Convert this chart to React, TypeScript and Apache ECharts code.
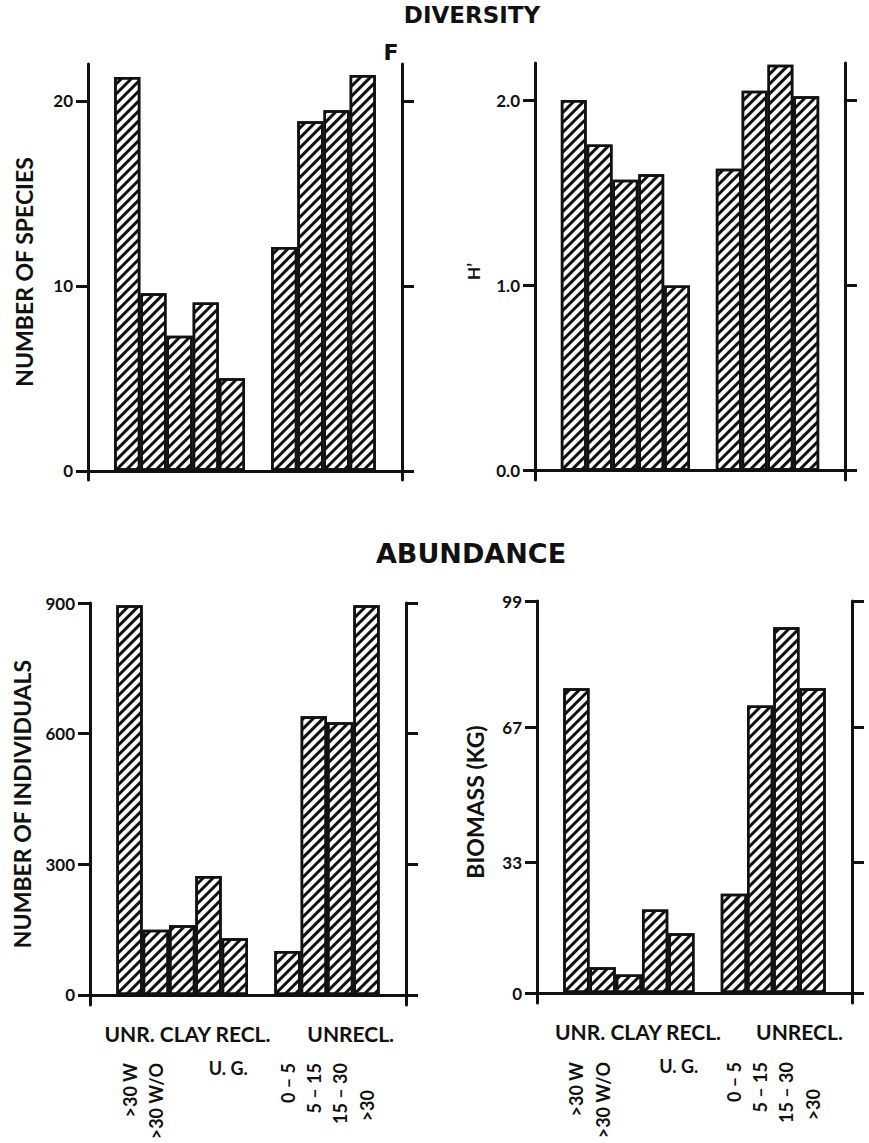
import React, { useEffect, useRef } from 'react';
import * as echarts from 'echarts';

// ---- data ----
// 12 slots per panel: empty, 5 clay-reclaimed bars, empty, 4 unreclaimed bars, empty
const slots = ['s0', 's1', 's2', 's3', 's4', 's5', 's6', 's7', 's8', 's9', 's10', 's11'];
const slotLabels = ['', '>30 W', '>30 W/O', '', '', '', '', '0 – 5', '5 – 15', '15 – 30', '>30', ''];
const speciesCount = [null, 21.3, 9.6, 7.3, 9.1, 5.0, null, 12.1, 18.9, 19.5, 21.4, null];
const shannonH = [null, 2.0, 1.76, 1.57, 1.6, 1.0, null, 1.63, 2.05, 2.19, 2.02, null];
const individuals = [null, 895, 150, 160, 273, 130, null, 101, 640, 626, 895, null];
const biomassKg = [null, 77, 6.5, 4.7, 21.1, 15.1, null, 25.1, 72.6, 92.4, 77, null];
const speciesTicks = [0, 10, 20];
const hTicks = [0, 1, 2];
const individualsTicks = [0, 300, 600, 900];
const biomassTicks = [0, 33, 67, 99];
const groupLabels = ['UNR. CLAY RECL.', 'UNRECL.'];
const subgroupLabel = 'U. G.';

const INK = '#111';
const FONT = 'Lato, "DejaVu Sans", sans-serif';
const TITLE_FONT = '"DejaVu Sans", Lato, sans-serif';

function buildOption() {
  const grid: any[] = [];
  const xAxis: any[] = [];
  const yAxis: any[] = [];
  const series: any[] = [];

  const barStyle = {
    color: '#fff',
    borderColor: INK,
    borderWidth: 2.5,
    decal: {
      symbol: 'rect',
      symbolSize: 1,
      color: INK,
      dashArrayX: [1, 0],
      dashArrayY: [2.3, 3.5],
      rotation: -Math.PI / 4,
    },
  };

  // the last ">30" label of the unreclaimed group sits lower in the original
  const slotItems = slots.map((s, i) =>
    i === 10 ? { value: s, textStyle: { padding: [0, 27, 0, 0] } } : s
  );

  function addPanel(p: any) {
    const rect = { left: p.left, top: p.top, width: p.width, height: p.height };
    const gi = grid.length;
    grid.push({ ...rect });
    const xi = xAxis.length;
    xAxis.push({
      type: 'category',
      gridIndex: gi,
      data: p.rotated ? slotItems : slots,
      boundaryGap: true,
      axisLine: { show: true, onZero: true, lineStyle: { color: INK, width: 3 } },
      axisTick: { show: false },
      splitLine: { show: false },
      axisLabel: p.rotated
        ? {
            show: true,
            interval: 0,
            rotate: 90,
            margin: p.rotMargin,
            formatter: (_v: any, i: number) => slotLabels[i],
            fontFamily: FONT,
            fontWeight: 'bold',
            fontSize: 18,
            color: INK,
          }
        : { show: false },
    });
    const yl = yAxis.length;
    const yCommon = {
      type: 'value',
      gridIndex: gi,
      min: p.min,
      max: p.max,
      splitLine: { show: false },
      axisLine: { show: true, onZero: false, lineStyle: { color: INK, width: 3 } },
      axisTick: { show: true, length: 12, customValues: p.ticks, lineStyle: { color: INK, width: 3 } },
    };
    yAxis.push({
      ...yCommon,
      position: 'left',
      axisLabel: {
        customValues: p.ticks,
        formatter: p.fmt,
        margin: 15,
        fontSize: 17,
        fontWeight: 'bold',
        fontFamily: FONT,
        color: INK,
      },
      name: p.name,
      nameLocation: 'middle',
      nameRotate: 90,
      nameGap: p.nameGap,
      nameTextStyle: { fontSize: p.nameSize, fontWeight: 'bold', fontFamily: FONT, color: INK },
    });
    yAxis.push({ ...yCommon, position: 'right', axisLabel: { show: false } });
    series.push({
      type: 'bar',
      xAxisIndex: xi,
      yAxisIndex: yl,
      data: p.values,
      barCategoryGap: '0%',
      itemStyle: barStyle,
      silent: true,
    });

    if (p.rotated) {
      const rows = [
        { at: p.groupAt, texts: groupLabels, margin: 18, size: 21 },
        { at: [p.subAt], texts: [subgroupLabel], margin: 54, size: 18 },
      ];
      rows.forEach((r) => {
        const g = grid.length;
        grid.push({ ...rect });
        xAxis.push({
          type: 'value',
          gridIndex: g,
          min: 0,
          max: 12,
          axisLine: { show: false, onZero: true },
          axisTick: { show: false },
          splitLine: { show: false },
          axisLabel: {
            customValues: r.at,
            formatter: (v: number) => {
              const k = r.at.findIndex((a: number) => Math.abs(a - v) < 1e-6);
              return k >= 0 ? r.texts[k] : '';
            },
            margin: r.margin,
            fontSize: r.size,
            fontWeight: 'bold',
            fontFamily: FONT,
            color: INK,
          },
        });
        yAxis.push({ type: 'value', gridIndex: g, min: p.min, max: p.max, show: false });
      });
    }
  }

  addPanel({
    left: 88, top: 64, width: 314, height: 416, min: -0.5, max: 22,
    ticks: speciesTicks, fmt: (v: number) => String(v), values: speciesCount,
    name: 'NUMBER OF SPECIES', nameGap: 53, nameSize: 23, rotated: false,
  });
  addPanel({
    left: 535, top: 63, width: 310, height: 417, min: -0.05, max: 2.2,
    ticks: hTicks, fmt: (v: number) => v.toFixed(1), values: shannonH,
    name: 'H’', nameGap: 53, nameSize: 17, rotated: false,
  });
  addPanel({
    left: 90, top: 603, width: 316, height: 402, min: -23, max: 900,
    ticks: individualsTicks, fmt: (v: number) => String(v), values: individuals,
    name: 'NUMBER OF INDIVIDUALS', nameGap: 57, nameSize: 23, rotated: true, rotMargin: 58,
    groupAt: [3.7, 9.9], subAt: 5.25,
  });
  addPanel({
    left: 537, top: 601, width: 315, height: 402, min: -2.5, max: 99,
    ticks: biomassTicks, fmt: (v: number) => String(v), values: biomassKg,
    name: 'BIOMASS (KG)', nameGap: 51, nameSize: 23, rotated: true, rotMargin: 59,
    groupAt: [3.85, 10.0], subAt: 5.4,
  });

  const graphic = [
    {
      type: 'text', x: 472, y: 15,
      style: { text: 'DIVERSITY', fill: INK, font: `bold 23px ${TITLE_FONT}`, textAlign: 'center', textVerticalAlign: 'middle' },
    },
    {
      type: 'text', x: 391, y: 52,
      style: { text: 'F', fill: INK, font: `bold 22px ${TITLE_FONT}`, textAlign: 'center', textVerticalAlign: 'middle' },
    },
    {
      type: 'text', x: 471, y: 553,
      style: { text: 'ABUNDANCE', fill: INK, font: `bold 27px ${TITLE_FONT}`, textAlign: 'center', textVerticalAlign: 'middle' },
    },
  ];

  return {
    animation: false,
    backgroundColor: '#fff',
    grid,
    xAxis,
    yAxis,
    series,
    graphic,
  };
}

export default function App() {
  const ref = useRef<HTMLDivElement>(null);
  useEffect(() => {
    document.body.style.margin = '0';
    if (!ref.current) return;
    const chart = echarts.init(ref.current, undefined, { renderer: 'svg' });
    chart.setOption(buildOption() as any);
    return () => chart.dispose();
  }, []);
  return <div ref={ref} style={{ width: 869, height: 1143 }} />;
}
